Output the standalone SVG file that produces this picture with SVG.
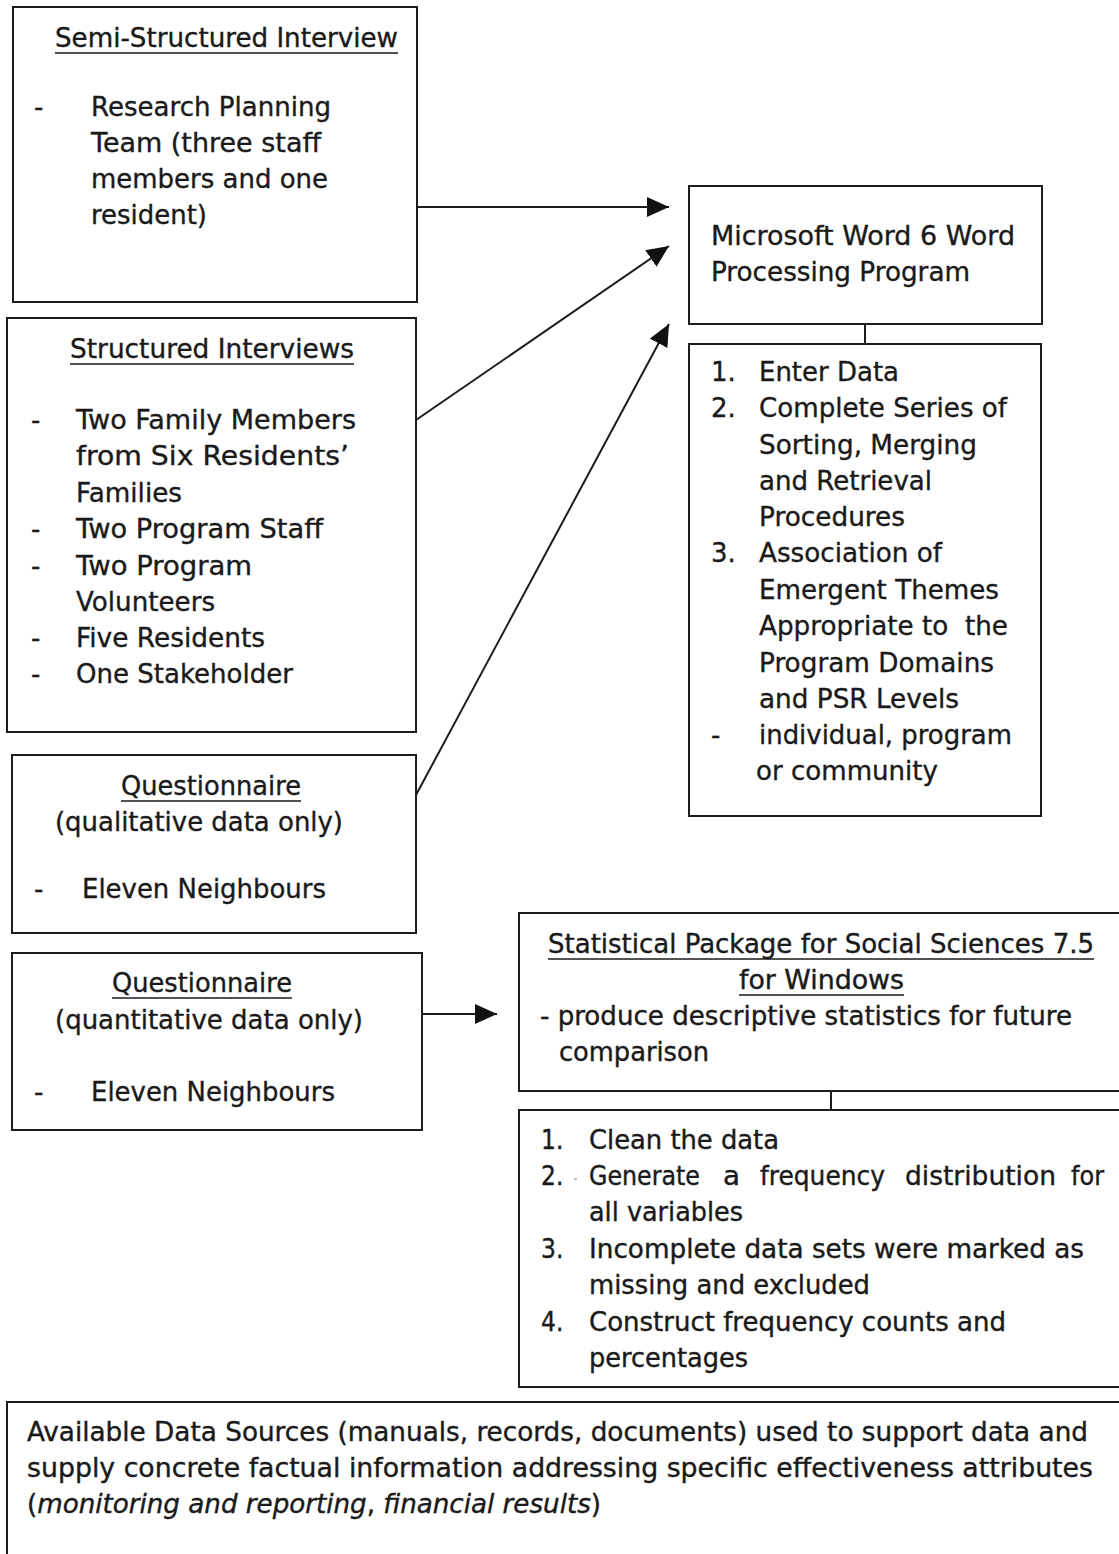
<svg xmlns="http://www.w3.org/2000/svg" width="1119" height="1554" viewBox="0 0 1119 1554">
  <style>
    .box { fill: #ffffff; stroke: #1c1c1c; stroke-width: 2; }
    .t { font-family: "DejaVu Sans", Verdana, sans-serif; font-size: 26px; fill: #1a1a1a; stroke: #1a1a1a; stroke-width: 0.35; }
    .c { font-family: "DejaVu Sans Condensed", "DejaVu Sans", sans-serif; font-size: 26px; fill: #1a1a1a; stroke: #1a1a1a; stroke-width: 0.35; }
    .u { stroke: #1a1a1a; stroke-width: 1.6; }
    .link { stroke: #1c1c1c; stroke-width: 2; fill: none; }
  </style>
  <defs>
    <marker id="head" markerUnits="userSpaceOnUse" markerWidth="24" markerHeight="22" refX="22" refY="10" orient="auto">
      <path d="M0,0 L22,10 L0,20 Z" fill="#111111"/>
    </marker>
  </defs>
  <rect width="1119" height="1554" fill="#ffffff"/>

  <!-- connectors -->
  <g id="connectors">
    <line class="link" x1="417" y1="207" x2="669" y2="207" marker-end="url(#head)"/>
    <line class="link" x1="416" y1="420" x2="669" y2="246" marker-end="url(#head)"/>
    <line class="link" x1="416" y1="795" x2="669" y2="324" marker-end="url(#head)"/>
    <line class="link" x1="422" y1="1014" x2="497" y2="1014" marker-end="url(#head)"/>
    <line class="link" x1="865" y1="324" x2="865" y2="344"/>
    <line class="link" x1="831" y1="1091" x2="831" y2="1110"/>
  </g>

  <!-- semi-structured interview -->
  <g id="semi-structured">
    <rect class="box" x="13" y="7" width="404" height="295"/>
    <text class="t" x="55" y="47" textLength="343" lengthAdjust="spacingAndGlyphs">Semi-Structured Interview</text>
    <line class="u" x1="55" y1="53" x2="398" y2="53"/>
    <text class="t" x="34" y="116">-</text>
    <text class="t" x="91" y="116" textLength="240" lengthAdjust="spacingAndGlyphs">Research Planning</text>
    <text class="t" x="91" y="152" textLength="230" lengthAdjust="spacingAndGlyphs">Team (three staff</text>
    <text class="t" x="91" y="188" textLength="237" lengthAdjust="spacingAndGlyphs">members and one</text>
    <text class="t" x="91" y="224" textLength="116" lengthAdjust="spacingAndGlyphs">resident)</text>
  </g>

  <!-- structured interviews -->
  <g id="structured">
    <rect class="box" x="7" y="318" width="409" height="414"/>
    <text class="t" x="70" y="358" textLength="284" lengthAdjust="spacingAndGlyphs">Structured Interviews</text>
    <line class="u" x1="70" y1="364" x2="354" y2="364"/>
    <text class="t" x="31" y="429">-</text>
    <text class="t" x="76" y="429" textLength="280" lengthAdjust="spacingAndGlyphs">Two Family Members</text>
    <text class="t" x="76" y="465" textLength="273" lengthAdjust="spacingAndGlyphs">from Six Residents’</text>
    <text class="t" x="76" y="502" textLength="106" lengthAdjust="spacingAndGlyphs">Families</text>
    <text class="t" x="31" y="538">-</text>
    <text class="t" x="76" y="538" textLength="247" lengthAdjust="spacingAndGlyphs">Two Program Staff</text>
    <text class="t" x="31" y="575">-</text>
    <text class="t" x="76" y="575" textLength="176" lengthAdjust="spacingAndGlyphs">Two Program</text>
    <text class="t" x="76" y="611" textLength="139" lengthAdjust="spacingAndGlyphs">Volunteers</text>
    <text class="t" x="31" y="647">-</text>
    <text class="t" x="76" y="647" textLength="189" lengthAdjust="spacingAndGlyphs">Five Residents</text>
    <text class="t" x="31" y="683">-</text>
    <text class="t" x="76" y="683" textLength="217" lengthAdjust="spacingAndGlyphs">One Stakeholder</text>
  </g>

  <!-- questionnaire, qualitative -->
  <g id="questionnaire-qual">
    <rect class="box" x="12" y="755" width="404" height="178"/>
    <text class="t" x="121" y="795" textLength="180" lengthAdjust="spacingAndGlyphs">Questionnaire</text>
    <line class="u" x1="121" y1="801" x2="301" y2="801"/>
    <text class="t" x="55" y="831" textLength="288" lengthAdjust="spacingAndGlyphs">(qualitative data only)</text>
    <text class="t" x="34" y="898">-</text>
    <text class="t" x="82" y="898" textLength="244" lengthAdjust="spacingAndGlyphs">Eleven Neighbours</text>
  </g>

  <!-- questionnaire, quantitative -->
  <g id="questionnaire-quant">
    <rect class="box" x="12" y="953" width="410" height="177"/>
    <text class="t" x="112" y="992" textLength="180" lengthAdjust="spacingAndGlyphs">Questionnaire</text>
    <line class="u" x1="112" y1="998" x2="292" y2="998"/>
    <text class="t" x="55" y="1029" textLength="308" lengthAdjust="spacingAndGlyphs">(quantitative data only)</text>
    <text class="t" x="34" y="1101">-</text>
    <text class="t" x="91" y="1101" textLength="244" lengthAdjust="spacingAndGlyphs">Eleven Neighbours</text>
  </g>

  <!-- word processing program -->
  <g id="word-program">
    <rect class="box" x="689" y="186" width="353" height="138"/>
    <text class="t" x="711" y="245" textLength="304" lengthAdjust="spacingAndGlyphs">Microsoft Word 6 Word</text>
    <text class="t" x="711" y="281" textLength="259" lengthAdjust="spacingAndGlyphs">Processing Program</text>
  </g>

  <g id="word-steps">
    <rect class="box" x="689" y="344" width="352" height="472"/>
    <text class="t" x="711" y="381">1.</text>
    <text class="t" x="759" y="381" textLength="140" lengthAdjust="spacingAndGlyphs">Enter Data</text>
    <text class="t" x="711" y="417">2.</text>
    <text class="t" x="759" y="417" textLength="248" lengthAdjust="spacingAndGlyphs">Complete Series of</text>
    <text class="t" x="759" y="454" textLength="218" lengthAdjust="spacingAndGlyphs">Sorting, Merging</text>
    <text class="t" x="759" y="490" textLength="173" lengthAdjust="spacingAndGlyphs">and Retrieval</text>
    <text class="t" x="759" y="526" textLength="146" lengthAdjust="spacingAndGlyphs">Procedures</text>
    <text class="t" x="711" y="562">3.</text>
    <text class="t" x="759" y="562" textLength="183" lengthAdjust="spacingAndGlyphs">Association of</text>
    <text class="t" x="759" y="599" textLength="240" lengthAdjust="spacingAndGlyphs">Emergent Themes</text>
    <text class="t" x="759" y="635" textLength="249" lengthAdjust="spacingAndGlyphs" xml:space="preserve">Appropriate to  the</text>
    <text class="t" x="759" y="672" textLength="235" lengthAdjust="spacingAndGlyphs">Program Domains</text>
    <text class="t" x="759" y="708" textLength="200" lengthAdjust="spacingAndGlyphs">and PSR Levels</text>
    <text class="t" x="711" y="744">-</text>
    <text class="t" x="759" y="744" textLength="253" lengthAdjust="spacingAndGlyphs">individual, program</text>
    <text class="t" x="756" y="780" textLength="182" lengthAdjust="spacingAndGlyphs">or community</text>
  </g>

  <!-- statistics package -->
  <g id="spss">
    <rect class="box" x="519" y="913" width="601" height="178"/>
    <text class="c" x="548" y="953" textLength="546" lengthAdjust="spacingAndGlyphs">Statistical Package for Social Sciences 7.5</text>
    <line class="u" x1="548" y1="959" x2="1094" y2="959"/>
    <text class="c" x="739" y="989" textLength="165" lengthAdjust="spacingAndGlyphs">for Windows</text>
    <line class="u" x1="739" y1="995" x2="904" y2="995"/>
    <text class="c" x="540" y="1025" textLength="532" lengthAdjust="spacingAndGlyphs">- produce descriptive statistics for future</text>
    <text class="c" x="559" y="1061" textLength="150" lengthAdjust="spacingAndGlyphs">comparison</text>
  </g>

  <g id="spss-steps">
    <rect class="box" x="519" y="1110" width="601" height="277"/>
    <text class="c" x="541" y="1149">1.</text>
    <text class="c" x="589" y="1149" textLength="190" lengthAdjust="spacingAndGlyphs">Clean the data</text>
    <text class="c" x="541" y="1185">2.</text>
    <line x1="574" y1="1179" x2="577" y2="1179" stroke="#777777" stroke-width="1"/>
    <!-- justified line: each word placed on its own -->
    <text class="c" x="589" y="1185" textLength="111" lengthAdjust="spacingAndGlyphs">Generate</text>
    <text class="c" x="723" y="1185" textLength="17" lengthAdjust="spacingAndGlyphs">a</text>
    <text class="c" x="760" y="1185" textLength="125" lengthAdjust="spacingAndGlyphs">frequency</text>
    <text class="c" x="905" y="1185" textLength="151" lengthAdjust="spacingAndGlyphs">distribution</text>
    <text class="c" x="1071" y="1185" textLength="33" lengthAdjust="spacingAndGlyphs">for</text>
    <text class="c" x="589" y="1221" textLength="154" lengthAdjust="spacingAndGlyphs">all variables</text>
    <text class="c" x="541" y="1258">3.</text>
    <text class="c" x="589" y="1258" textLength="495" lengthAdjust="spacingAndGlyphs">Incomplete data sets were marked as</text>
    <text class="c" x="589" y="1294" textLength="281" lengthAdjust="spacingAndGlyphs">missing and excluded</text>
    <text class="c" x="541" y="1331">4.</text>
    <text class="c" x="589" y="1331" textLength="417" lengthAdjust="spacingAndGlyphs">Construct frequency counts and</text>
    <text class="c" x="589" y="1367" textLength="159" lengthAdjust="spacingAndGlyphs">percentages</text>
  </g>

  <!-- available data sources -->
  <g id="data-sources">
    <rect class="box" x="7" y="1402" width="1114" height="160"/>
    <text class="c" x="27" y="1441" textLength="1061" lengthAdjust="spacingAndGlyphs">Available Data Sources (manuals, records, documents) used to support data and</text>
    <text class="c" x="27" y="1477" textLength="1066" lengthAdjust="spacingAndGlyphs">supply concrete factual information addressing specific effectiveness attributes</text>
    <text class="c" x="27" y="1513" textLength="574" lengthAdjust="spacingAndGlyphs">(<tspan font-style="italic">monitoring and reporting</tspan>, <tspan font-style="italic">financial results</tspan>)</text>
  </g>
</svg>
